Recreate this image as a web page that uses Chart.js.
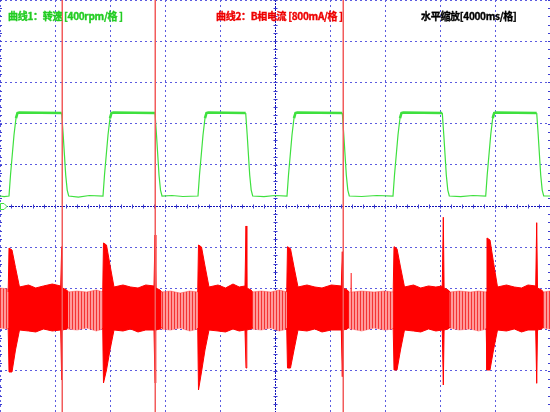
<!DOCTYPE html>
<html>
<head>
<meta charset="utf-8">
<script src="https://cdn.jsdelivr.net/npm/chart.js@4.4.1/dist/chart.umd.min.js"></script>
<style>
  body { margin: 0; background: #fff; }
  #wrap { position: relative; width: 550px; height: 412px; }
  .lbl { position: absolute; top: 8px; font: bold 10px "Noto Sans CJK SC", sans-serif; letter-spacing: -0.3px;
         -webkit-text-stroke: 0.35px currentColor; white-space: pre; }
</style>
</head>
<body>
<div id="wrap">
  <canvas id="scope" width="550" height="412"></canvas>
  <span class="lbl" style="left:8px;color:#22cc22">曲线1：转速 [400rpm/格 ]</span>
  <span class="lbl" style="left:216px;color:#ee0000">曲线2：B相电流 [800mA/格 ]</span>
  <span class="lbl" style="left:421px;color:#000">水平缩放[4000ms/格]</span>
</div>
<script>
(function() {
  'use strict';

  // scope settings (per division), 10 x 10 divisions
  const msPerDiv = 4000;
  const rpmPerDiv = 400;
  const maPerDiv = 800;

  // curve 1: speed (rpm) vs time (ms)
  const speedTime = [
    0, 300, 655, 764, 1018, 1164, 1273, 1400, 4487, 4596, 4778, 4887, 4996, 5700, 6500,
    7491, 7600, 7855, 8000, 8109, 8250, 11273, 11382, 11564, 11673, 11782, 12500, 13300,
    14400, 14509, 14764, 14909, 15018, 15150, 17869, 17978, 18160, 18269, 18378, 19200, 20000,
    20873, 20982, 21236, 21382, 21491, 21620, 24895, 25004, 25186, 25295, 25404, 26300, 27400,
    28582, 28691, 28945, 29091, 29200, 29330, 32167, 32276, 32458, 32567, 32676, 33500, 34400,
    35324, 35433, 35687, 35833, 35942, 36070, 39033, 39142, 39324, 39433, 39542, 40000
  ];
  const speedRpm = [
    97, 92, 97, 301, 689, 854, 903, 908, 903, 689, 301, 155, 97, 87, 102,
    97, 301, 689, 854, 903, 908, 903, 689, 301, 155, 97, 102, 92,
    97, 301, 689, 854, 903, 908, 903, 689, 301, 155, 97, 92, 102,
    97, 301, 689, 854, 903, 908, 903, 689, 301, 155, 97, 92, 102,
    97, 301, 689, 854, 903, 908, 903, 689, 301, 155, 97, 92, 102,
    97, 301, 689, 854, 903, 908, 903, 689, 301, 155, 97, 97
  ];

  // curve 2: phase B current envelope (mA) while running fast (null = gap)
  const denseTime = [
    596, 655, 873, 1127, 1418, 2073, 2600, 3164, 3800, 4415, 4487, 4545, 4851, 4960, 6000,
    7469, 7527, 7745, 8000, 8291, 8945, 9500, 10036, 10600, 11200, 11273, 11331, 11636, 11745, 13000,
    14378, 14436, 14655, 14909, 15200, 15855, 16400, 16945, 17400, 17818, 17891, 17949, 18255, 18364, 19500,
    20851, 20909, 21127, 21382, 21673, 22327, 22900, 23418, 24100, 24822, 24895, 24953, 25258, 25367, 27000,
    28596, 28655, 28873, 29127, 29418, 30073, 30600, 31164, 31700, 32167, 32240, 32298, 32604, 32713, 34000,
    35360, 35418, 35636, 35891, 36182, 36836, 37400, 37927, 38400, 38960, 39033, 39091, 39396, 39505
  ];
  const denseHigh = [
    330, 1184, 1146, 806, 427, 466, 408, 447, 485, 447, 1210, 408, 369, 330, null,
    330, 1282, 1243, 854, 427, 466, 427, 408, 466, 447, 1437, 408, 369, 330, null,
    330, 1243, 1204, 835, 427, 466, 408, 485, 427, 447, 1612, 408, 369, 330, null,
    330, 1210, 1171, 816, 427, 466, 427, 408, 466, 447, 1113, 408, 369, 330, null,
    330, 1210, 1171, 816, 427, 466, 408, 447, 427, 447, 1781, 408, 369, 330, null,
    330, 1379, 1340, 903, 427, 466, 427, 408, 466, 447, 1676, 408, 369, 330
  ];
  const denseLow = [
    -369, -1223, -1223, -796, -408, -427, -446, -388, -427, -408, -1379, -408, -388, -350, null,
    -369, -1437, -1184, -796, -408, -427, -388, -446, -408, -408, -1437, -408, -388, -350, null,
    -369, -1573, -1223, -796, -408, -427, -446, -388, -427, -408, -1146, -408, -388, -350, null,
    -369, -1146, -1146, -796, -408, -427, -388, -446, -408, -408, -1315, -408, -388, -350, null,
    -369, -1184, -1184, -796, -408, -427, -446, -388, -427, -408, -1476, -408, -388, -350, null,
    -369, -1184, -1184, -796, -408, -427, -388, -446, -408, -408, -1443, -408, -388, -350
  ];

  // curve 2: current envelope (mA) while running slow
  const lightTime = [
    0, 600, 4900, 5600, 6300, 7000, 7500, 11700, 12400, 13100, 13800, 14400,
    18300, 19000, 19700, 20300, 20900, 25300, 25500, 25530, 25560, 26300, 27200, 28000, 28600,
    32700, 33400, 34200, 34800, 35400, 39500, 40000
  ];
  const lightHigh = [
    408, 390, 330, 349, 330, 369, 330, 330, 349, 310, 349, 330,
    330, 349, 330, 369, 330, 330, 330, 699, 330, 349, 330, 349, 330,
    330, 349, 330, 349, 330, 330, 349
  ];
  const lightLow = [
    -369, -388, -388, -408, -369, -427, -388, -388, -408, -369, -427, -388,
    -388, -408, -369, -427, -388, -369, -388, -408, -388, -427, -369, -408, -388,
    -369, -408, -388, -427, -388, -369, -388
  ];

  // cursor positions (ms)
  const cursorTimes = [4509, 11295, 24945];

  const canvas = document.getElementById('scope');
  const ctx = canvas.getContext('2d');

  function stripePattern() {
    const c = document.createElement('canvas');
    c.width = 3; c.height = 1;
    const g = c.getContext('2d');
    g.fillStyle = '#ff9a9a';
    g.fillRect(0, 0, 3, 1);
    g.fillStyle = '#f43434';
    g.fillRect(0, 0, 1, 1);
    return ctx.createPattern(c, 'repeat');
  }

  const pts = (xs, ys) => xs.map((t, i) => ({ x: t, y: ys[i] }));

  const scopeMarks = {
    id: 'scopeMarks',
    beforeDatasetsDraw(chart) {
      const { ctx, chartArea: a, scales: { x, y } } = chart;
      const cx = Math.round(x.getPixelForValue(5 * msPerDiv)) + 0.5;
      const cy = Math.round(y.getPixelForValue(0)) + 0.5;
      ctx.save();
      ctx.lineWidth = 1;
      ctx.strokeStyle = '#1212b8';
      ctx.setLineDash([2, 1]);
      ctx.beginPath();
      ctx.moveTo(cx, a.top); ctx.lineTo(cx, a.bottom);
      ctx.moveTo(a.left, cy); ctx.lineTo(a.right, cy);
      ctx.stroke();
      ctx.setLineDash([]);
      ctx.strokeStyle = '#3c3cd0';
      ctx.beginPath();
      for (let t = 0; t <= 10 * msPerDiv; t += msPerDiv / 5) {
        const px = Math.round(x.getPixelForValue(t)) + 0.5;
        ctx.moveTo(px, cy - 2); ctx.lineTo(px, cy + 2);
      }
      for (let v = -5 * rpmPerDiv; v <= 5 * rpmPerDiv; v += rpmPerDiv / 5) {
        const py = Math.round(y.getPixelForValue(v)) + 0.5;
        ctx.moveTo(cx - 2, py); ctx.lineTo(cx + 2, py);
        ctx.moveTo(a.left, py); ctx.lineTo(a.left + 2, py);
        ctx.moveTo(a.right - 2, py); ctx.lineTo(a.right, py);
      }
      ctx.stroke();
      ctx.restore();
    },
    afterDatasetsDraw(chart) {
      const { ctx, chartArea: a, scales: { x, y } } = chart;
      ctx.save();
      ctx.strokeStyle = '#f25c5c';
      ctx.lineWidth = 1.5;
      cursorTimes.forEach(t => {
        const px = Math.round(x.getPixelForValue(t)) + 0.25;
        ctx.beginPath();
        ctx.moveTo(px, a.top); ctx.lineTo(px, a.bottom);
        ctx.stroke();
      });
      // channel 1 zero marker
      const zy = Math.round(y.getPixelForValue(0)) + 0.5;
      ctx.lineWidth = 1;
      ctx.strokeStyle = '#3ee03e';
      ctx.fillStyle = '#fff';
      ctx.beginPath();
      ctx.moveTo(a.left + 0.5, zy - 3);
      ctx.lineTo(a.left + 4, zy - 3);
      ctx.lineTo(a.left + 7, zy);
      ctx.lineTo(a.left + 4, zy + 3);
      ctx.lineTo(a.left + 0.5, zy + 3);
      ctx.closePath();
      ctx.fill();
      ctx.stroke();
      ctx.restore();
    }
  };

  const gridColor = '#5c5ce0';

  new Chart(ctx, {
    type: 'line',
    data: {
      datasets: [
        {
          label: '转速',
          data: pts(speedTime, speedRpm),
          yAxisID: 'y',
          borderColor: '#3ee03e',
          borderWidth: 1.2,
          pointRadius: 0,
          tension: 0,
          segment: {
            borderWidth: c => (c.p0.parsed.y > 850 && c.p1.parsed.y > 850) ? 2.6 : 1.2
          }
        },
        {
          label: 'B相电流',
          data: pts(denseTime, denseHigh),
          yAxisID: 'y2',
          borderColor: '#ff0000',
          backgroundColor: '#ff0000',
          borderWidth: 1,
          pointRadius: 0,
          spanGaps: false,
          fill: '+1'
        },
        {
          label: 'B相电流 low',
          data: pts(denseTime, denseLow),
          yAxisID: 'y2',
          borderColor: '#ff0000',
          borderWidth: 1,
          pointRadius: 0,
          spanGaps: false,
          fill: false
        },
        {
          label: 'B相电流 slow',
          data: pts(lightTime, lightHigh),
          yAxisID: 'y2',
          borderColor: 'rgba(255,60,60,0.55)',
          backgroundColor: stripePattern(),
          borderWidth: 0.8,
          pointRadius: 0,
          fill: '+1'
        },
        {
          label: 'B相电流 slow low',
          data: pts(lightTime, lightLow),
          yAxisID: 'y2',
          borderColor: 'rgba(255,60,60,0.55)',
          borderWidth: 0.8,
          pointRadius: 0,
          fill: false
        }
      ]
    },
    options: {
      responsive: false,
      animation: false,
      devicePixelRatio: 1,
      layout: { padding: 0 },
      plugins: { legend: { display: false }, tooltip: { enabled: false } },
      scales: {
        x: {
          type: 'linear',
          min: 0,
          max: 10 * msPerDiv,
          ticks: { display: false, stepSize: msPerDiv },
          grid: {
            color: c => (c.tick && c.tick.value === 5 * msPerDiv) ? 'rgba(0,0,0,0)' : gridColor,
            drawTicks: false
          },
          border: { display: false, dash: [2, 3] }
        },
        y: {
          min: -5 * rpmPerDiv,
          max: 5 * rpmPerDiv,
          ticks: { display: false, stepSize: rpmPerDiv },
          grid: {
            color: c => (c.tick && c.tick.value === 0) ? 'rgba(0,0,0,0)' : gridColor,
            drawTicks: false
          },
          border: { display: false, dash: [2, 3] }
        },
        y2: {
          display: false,
          min: -2.5 * maPerDiv,
          max: 7.5 * maPerDiv
        }
      }
    },
    plugins: [scopeMarks]
  });
})();
</script>
</body>
</html>
